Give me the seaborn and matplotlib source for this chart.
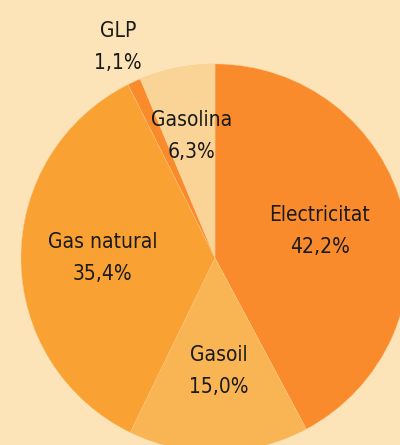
import numpy as np
import matplotlib
matplotlib.use("Agg")
import matplotlib.pyplot as plt
import seaborn as sns

# ---------- data ----------
categories = ["Electricitat", "Gasoil", "Gas natural", "GLP", "Gasolina"]
shares = [42.2, 15.0, 35.4, 1.1, 6.3]
pct_labels = ["42,2%", "15,0%", "35,4%", "1,1%", "6,3%"]
colors = ["#F98B2C", "#F9B553", "#F9A233", "#F98B2C", "#FAD497"]

# label anchor points (pie units, centre = 0,0 ; radius = 1)
label_pos = [(0.54, 0.14), (0.02, -0.585), (-0.58, 0.0), (-0.50, 1.09), (-0.12, 0.63)]

sns.set_theme(style="white")
plt.rcParams["font.family"] = ["DejaVu Sans"]

bg = "#FCE4B8"
fig = plt.figure(figsize=(4.0, 4.45), dpi=100, facecolor=bg)
ax = fig.add_axes([0.0525, -0.0157, 0.97, 0.872])
ax.set_facecolor(bg)

ax.pie(shares, colors=colors, startangle=90, counterclock=False, radius=1,
       wedgeprops=dict(linewidth=0.3, edgecolor="#FAC98A"))
ax.set_xlim(-1, 1); ax.set_ylim(-1, 1)
ax.set_aspect("equal")
ax.axis("off")
for p in ax.patches:
    p.set_clip_on(False)

for name, pct, (x, y) in zip(categories, pct_labels, label_pos):
    ax.text(x, y, f"{name}\n{pct}", ha="center", va="center", fontsize=15,
            fontstretch="condensed", color="#1a1a1a", linespacing=1.75,
            clip_on=False)

fig.savefig("out.png", dpi=100, facecolor=bg)
